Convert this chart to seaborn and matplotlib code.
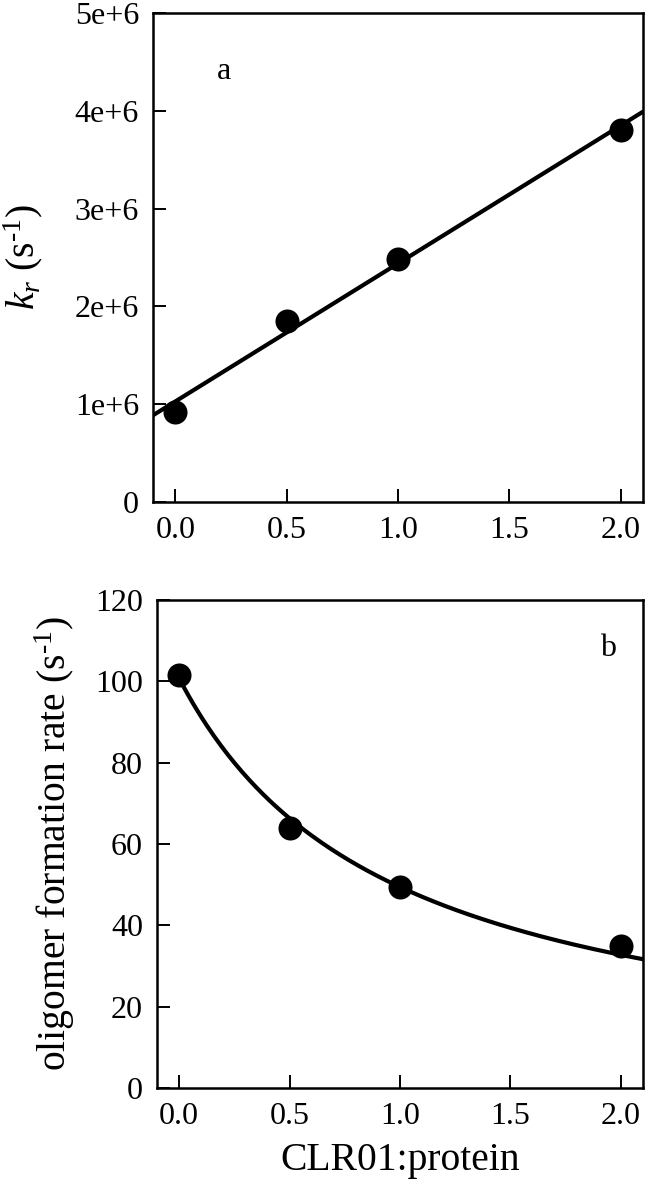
import numpy as np
import pandas as pd
import matplotlib
matplotlib.use("Agg")
import matplotlib.pyplot as plt
import seaborn as sns

ratio = [0.0, 0.5, 1.0, 2.0]
kr = [0.92e6, 1.85e6, 2.48e6, 3.80e6]
oligomer_rate = [101.5, 64.0, 49.5, 35.0]

sns.set_style("ticks")
plt.rcParams["font.family"] = ["Liberation Serif", "DejaVu Serif"]
plt.rcParams["mathtext.fontset"] = "custom"
plt.rcParams["mathtext.rm"] = "Liberation Serif"
plt.rcParams["mathtext.it"] = "Liberation Serif:italic"
plt.rcParams["text.color"] = "black"
plt.rcParams["axes.labelcolor"] = "black"
plt.rcParams["xtick.color"] = "black"
plt.rcParams["ytick.color"] = "black"

TICK_FS = 23
LABEL_FS = 28.5

fig = plt.figure(figsize=(6.5, 11.84), dpi=100)
ax1 = fig.add_axes([0.2354, 0.576, 0.7538, 0.413])
ax2 = fig.add_axes([0.2415, 0.0811, 0.7477, 0.4122])

df_a = pd.DataFrame({"ratio": ratio, "kr": kr})
df_b = pd.DataFrame({"ratio": ratio, "rate": oligomer_rate})

# panel a: linear regression line through the points
ax1.set_xlim(-0.1, 2.1)
ax1.set_ylim(0, 5e6)
sns.regplot(data=df_a, x="ratio", y="kr", ax=ax1, ci=None, truncate=False,
            scatter_kws={"s": 300, "color": "black", "alpha": 1,
                         "linewidths": 0, "zorder": 3},
            line_kws={"color": "black", "lw": 3.0})
ax1.set_yticks([0, 1e6, 2e6, 3e6, 4e6, 5e6])
ax1.set_yticklabels(["0", "1e+6", "2e+6", "3e+6", "4e+6", "5e+6"])
ax1.set_ylabel(r"$k_r$ (s$^{\text{-1}}$)", fontsize=LABEL_FS)
ax1.yaxis.set_label_coords(-0.22, 0.5)
ax1.set_xlabel("")
ax1.text(0.22, 4.4e6, "a", fontsize=TICK_FS, ha="center", va="center")

# panel b: hyperbolic decay fit  y = A / (1 + k x), least squares
x = np.array(ratio)
y = np.array(oligomer_rate)
best = None
for k in np.linspace(0.2, 3.0, 2801):
    f = 1.0 / (1.0 + k * x)
    A = (f * y).sum() / (f * f).sum()
    sse = ((y - A * f) ** 2).sum()
    if best is None or sse < best[0]:
        best = (sse, A, k)
_, fit_A, fit_k = best
xs = np.linspace(0.0, 2.1, 200)
df_fit = pd.DataFrame({"ratio": xs, "rate": fit_A / (1.0 + fit_k * xs)})

ax2.set_xlim(-0.1, 2.1)
ax2.set_ylim(0, 120)
sns.lineplot(data=df_fit, x="ratio", y="rate", ax=ax2, color="black", lw=3.0)
sns.scatterplot(data=df_b, x="ratio", y="rate", ax=ax2, s=300, color="black",
                linewidth=0, zorder=3)
ax2.set_yticks([0, 20, 40, 60, 80, 100, 120])
ax2.set_ylabel(r"oligomer formation rate (s$^{\text{-1}}$)", fontsize=LABEL_FS)
ax2.yaxis.set_label_coords(-0.165, 0.5)
ax2.set_xlabel("CLR01:protein", fontsize=LABEL_FS, labelpad=8)
ax2.text(1.94, 108, "b", fontsize=TICK_FS, ha="center", va="center")

for ax in (ax1, ax2):
    ax.set_xticks([0.0, 0.5, 1.0, 1.5, 2.0])
    ax.set_xticklabels(["0.0", "0.5", "1.0", "1.5", "2.0"])
    ax.tick_params(direction="in", length=9.5, width=1.4, labelsize=TICK_FS,
                   pad=10, top=False, right=False)
    for sp in ax.spines.values():
        sp.set_visible(True)
        sp.set_linewidth(1.8)
        sp.set_color("black")

fig.savefig("out.png", dpi=100)
plt.close(fig)
